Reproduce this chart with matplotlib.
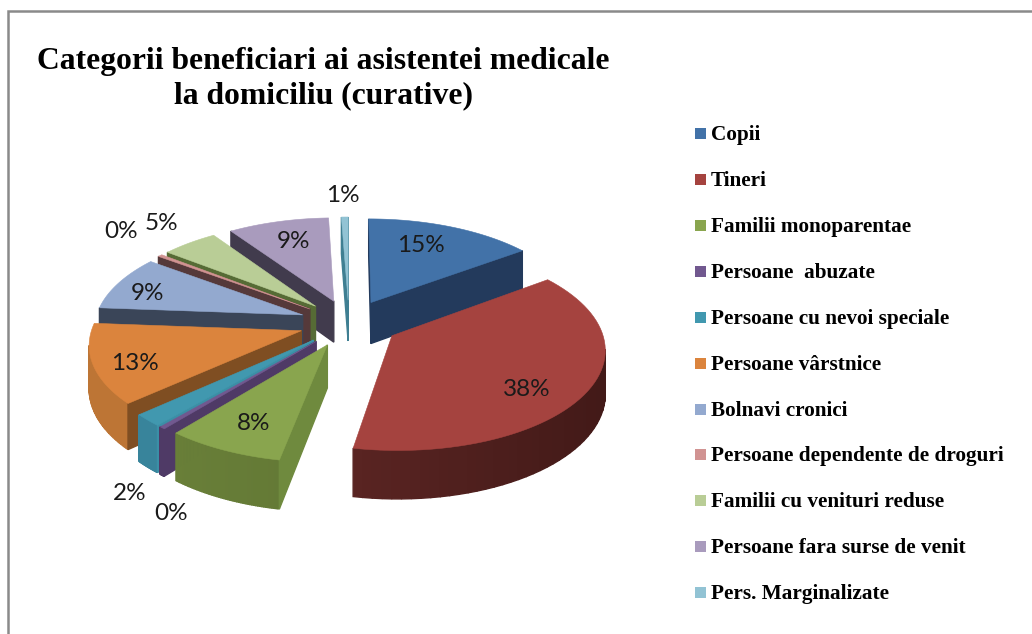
import numpy as np
import matplotlib
matplotlib.use('Agg')
import matplotlib.pyplot as plt
from matplotlib.patches import Polygon, Rectangle

title = "Categorii beneficiari ai asistentei medicale\nla domiciliu (curative)"

categories = ['Copii', 'Tineri', 'Familii monoparentae', 'Persoane  abuzate',
              'Persoane cu nevoi speciale', 'Persoane vârstnice', 'Bolnavi cronici',
              'Persoane dependente de droguri', 'Familii cu venituri reduse',
              'Persoane fara surse de venit', 'Pers. Marginalizate']
values = [15, 38.4, 8, 0.4, 2, 13, 9, 0.4, 5, 9, 0.6]
labels = ['15%', '38%', '8%', '0%', '2%', '13%', '9%', '0%', '5%', '9%', '1%']

top_colors = ['#4272A8', '#A5433F', '#89A54E', '#71588F', '#4198AF', '#DB843D',
              '#93A9CF', '#D19392', '#B9CD96', '#A99BBD', '#92C3D4']
radial_colors = ['#233A5C', '#5A2523', '#6F8A3E', '#4F3A66', '#3B8FA6', '#7F4E22',
                 '#3A4558', '#55393A', '#566B35', '#413B4D', '#3F7F92']
arc_left = ['#2F5080', '#6B2C2A', '#6A8039', '#4F3A66', '#38849B', '#BD7535',
            '#55688A', '#8A5C5B', '#7F9560', '#6D5F80', '#5F95A6']
arc_right = ['#233A5C', '#431A18', '#566B2E', '#4F3A66', '#2F7288', '#A8642A',
             '#3A4558', '#55393A', '#566B35', '#413B4D', '#3F7F92']

# label centres in image pixels
label_x = [421, 527, 254, 171, 130, 135, 148, 121, 161, 294, 343]
label_y = [245, 389, 424, 513, 494, 364, 293, 232, 223, 241, 196]

legend_y = [134, 180, 226, 272, 318, 364, 410, 455, 501, 547, 593]

# pie geometry (pixels), tilt is a simple perspective factor
cx, cy = 349, 323
ax_r, by_r = 208, 98
tilt = 0.118
explode = 0.24
depth = 42


def project(u, v):
    f = 1 / (1 + tilt * v)
    return cx + ax_r * u * f, cy - by_r * v * f, f


def hex_mix(c1, c2, t):
    a = np.array(matplotlib.colors.to_rgb(c1))
    b = np.array(matplotlib.colors.to_rgb(c2))
    return tuple(a + (b - a) * t)


fig = plt.figure(figsize=(10.32, 6.34), dpi=100)
ax = fig.add_axes([0, 0, 1, 1])
ax.set_xlim(0, 1032)
ax.set_ylim(634, 0)
ax.axis('off')

# outer chart frame
ax.plot([8, 8, 1032], [634, 11, 11], color='#8A8A8A', lw=1.8, solid_joinstyle='miter')

fractions = np.array(values) / np.sum(values)
ends = 90 - 360 * np.cumsum(fractions)
starts = ends + 360 * fractions
mids = (starts + ends) / 2

order = np.argsort(-np.sin(np.radians(mids)))
for rank, i in enumerate(order):
    z = 2 + rank * 0.01
    m = np.radians(mids[i])
    ou, ov = explode * np.cos(m), explode * np.sin(m)
    theta = np.radians(np.linspace(ends[i], starts[i], 60))
    us = np.concatenate([[ou], ou + np.cos(theta)])
    vs = np.concatenate([[ov], ov + np.sin(theta)])
    xs, ys, fs = project(us, vs)
    n = len(xs)
    for k in range(n):
        j = (k + 1) % n
        if xs[j] <= xs[k]:
            continue  # back facing
        if k == 0 or j == 0:
            col = radial_colors[i]
        else:
            t = (xs[k] - 150) / 450
            col = hex_mix(arc_left[i], arc_right[i], np.clip(t, 0, 1))
        quad = [(xs[k], ys[k]), (xs[j], ys[j]),
                (xs[j], ys[j] + depth * fs[j]), (xs[k], ys[k] + depth * fs[k])]
        ax.add_patch(Polygon(quad, closed=True, fc=col, ec=col, lw=1.0, zorder=z))
    ax.add_patch(Polygon(np.column_stack([xs, ys]), closed=True, fc=top_colors[i],
                         ec=top_colors[i], lw=0.4, zorder=z))

for lab, x, y in zip(labels, label_x, label_y):
    ax.text(x, y, lab, family='Lato', fontsize=17.5, color='#1A1A1A',
            ha='center', va='center', zorder=5)

ax.text(323, 79, title, family='Liberation Serif', fontweight='bold', fontsize=22.8,
        color='black', ha='center', va='center', linespacing=1.24, zorder=5)

for name, col, y in zip(categories, top_colors, legend_y):
    ax.add_patch(Rectangle((695, y - 6), 11, 11, fc=col, ec='none', zorder=5))
    ax.text(711, y + 1, name, family='Liberation Serif', fontweight='bold', fontsize=15.3,
            color='black', ha='left', va='center', zorder=5)

fig.savefig('out.png', dpi=100)
